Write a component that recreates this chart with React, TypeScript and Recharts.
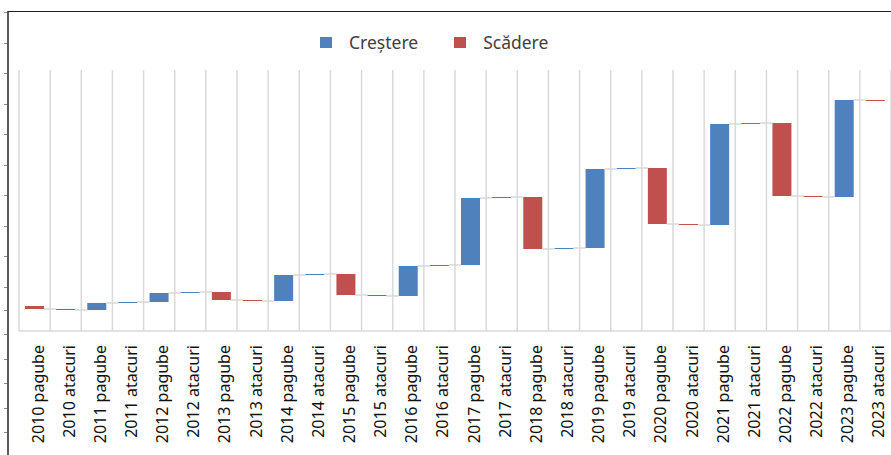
import { Bar, BarChart, CartesianGrid, Legend, XAxis, YAxis } from "recharts";

const categories = [
  "2010 pagube", "2010 atacuri", "2011 pagube", "2011 atacuri",
  "2012 pagube", "2012 atacuri", "2013 pagube", "2013 atacuri",
  "2014 pagube", "2014 atacuri", "2015 pagube", "2015 atacuri",
  "2016 pagube", "2016 atacuri", "2017 pagube", "2017 atacuri",
  "2018 pagube", "2018 atacuri", "2019 pagube", "2019 atacuri",
  "2020 pagube", "2020 atacuri", "2021 pagube", "2021 atacuri",
  "2022 pagube", "2022 atacuri", "2023 pagube", "2023 atacuri",
];

// level before the first step, then the change of each step
const startTotal = 2.5;
const changes = [
  -0.3, -0.1, 0.7, 0.1, 0.9, 0.1, -0.8, -0.1,
  2.6, 0.1, -2.1, -0.1, 3.0, 0.1, 6.7, 0.1,
  -5.2, 0.1, 7.9, 0.1, -5.6, -0.1, 10.1, 0.1,
  -7.3, -0.1, 9.7, -0.1,
];

const seriesNames = { up: "Creștere", down: "Scădere" };

const CHART_W = 891;
const CHART_H = 455;
const PLOT_LEFT = 19;
const BAR_SIZE = 19;
const step = (CHART_W - PLOT_LEFT) / categories.length;
const connectorLen = step - BAR_SIZE;

const blue = "#4f81bd";
const red = "#c0504d";
const gridStroke = "#d9d9d9";
const font = "'Noto Sans', 'Open Sans', sans-serif";

type Row = { name: string; delta: number; base: number; up: number; down: number };

const rows: Row[] = (() => {
  let total = startTotal;
  return categories.map((name, i) => {
    const delta = changes[i];
    const next = Math.round((total + delta) * 10) / 10;
    const row = {
      name,
      delta,
      base: Math.min(total, next),
      up: delta > 0 ? delta : 0,
      down: delta < 0 ? -delta : 0,
    };
    total = next;
    return row;
  });
})();

function StepBar(props: any) {
  const { x, y, width, height, fill, index, payload } = props;
  if (!height || height <= 0) return null;
  const endY = payload.delta > 0 ? y : y + height;
  return (
    <g>
      <rect x={x} y={y} width={width} height={Math.max(height, 1)} fill={fill} />
      {index < categories.length - 1 && (
        <line
          x1={x + width}
          x2={x + width + connectorLen}
          y1={endY}
          y2={endY}
          stroke={gridStroke}
          strokeWidth={1.5}
        />
      )}
    </g>
  );
}

function CategoryTick(props: any) {
  const { x, y, payload } = props;
  return (
    <text
      transform={`translate(${x + 9},${y + 12}) rotate(-90)`}
      textAnchor="end"
      fontSize={16}
      fontFamily={font}
      fill="#111"
    >
      {payload.value}
    </text>
  );
}

function LegendContent(props: any) {
  const items = (props.payload || []).filter((item: any) => item.type !== "none" && item.dataKey !== "base");
  return (
    <div style={{ height: 42, display: "flex", alignItems: "center", paddingLeft: 301, paddingBottom: 14, boxSizing: "border-box" }}>
      {items.map((item: any) => (
        <div key={item.value} style={{ display: "flex", alignItems: "center", marginRight: 36 }}>
          <span style={{ width: 12, height: 11, background: item.color, display: "inline-block", marginRight: 17 }} />
          <span style={{ fontSize: 17.5, fontFamily: font, color: "#404040" }}>{item.value}</span>
        </div>
      ))}
    </div>
  );
}

export default function App() {
  return (
    <div style={{ position: "absolute", left: 0, top: 0, width: CHART_W, height: CHART_H, background: "#fff", overflow: "hidden" }}>
      {/* frame: left axis with ticks and top rule */}
      <div style={{ position: "absolute", left: 7, top: 11, width: 2, height: CHART_H, background: "#595959" }} />
      <div style={{ position: "absolute", left: 8, top: 11, width: CHART_W, height: 1, background: "#222" }} />
      <div
        style={{
          position: "absolute", left: 4, top: 12, width: 3, height: 280,
          background: "repeating-linear-gradient(to bottom, #8c8c8c 0 1px, transparent 1px 30.5px)",
        }}
      />
      <div
        style={{
          position: "absolute", left: 4, top: 310, width: 3, height: 145,
          background: "repeating-linear-gradient(to bottom, #8c8c8c 0 1px, transparent 1px 24.4px)",
        }}
      />
      <BarChart
        width={CHART_W}
        height={CHART_H}
        data={rows}
        margin={{ top: 28, right: 0, left: PLOT_LEFT, bottom: 0 }}
        barSize={BAR_SIZE}
        style={{ position: "absolute", left: 0, top: 0 }}
      >
        <CartesianGrid
          horizontal={false}
          stroke={gridStroke}
          strokeWidth={1.5}
          verticalCoordinatesGenerator={({ offset }: any) =>
            Array.from({ length: categories.length + 1 }, (_, i) => offset.left + (i * offset.width) / categories.length)
          }
        />
        <XAxis
          dataKey="name"
          interval={0}
          height={124}
          tickLine={false}
          tickSize={0}
          axisLine={{ stroke: gridStroke, strokeWidth: 1.5 }}
          tick={<CategoryTick />}
        />
        <YAxis hide domain={[0, 26.1]} />
        <Legend verticalAlign="top" content={<LegendContent />} />
        <Bar dataKey="base" stackId="w" fill="transparent" legendType="none" isAnimationActive={false} />
        <Bar dataKey="up" stackId="w" fill={blue} name={seriesNames.up} shape={<StepBar />} isAnimationActive={false} />
        <Bar dataKey="down" stackId="w" fill={red} name={seriesNames.down} shape={<StepBar />} isAnimationActive={false} />
      </BarChart>
    </div>
  );
}
